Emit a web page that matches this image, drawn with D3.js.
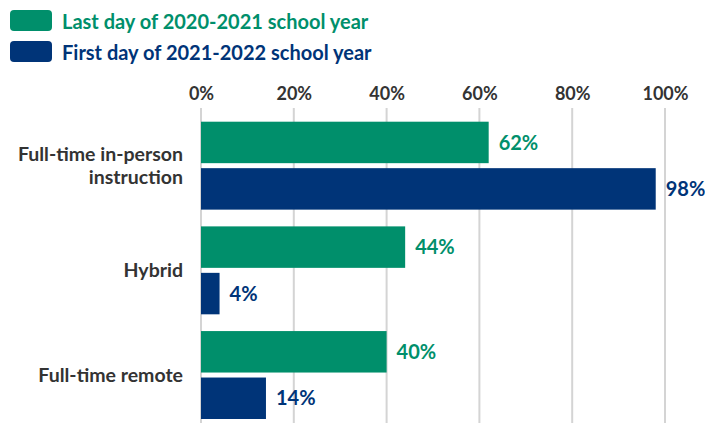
<!DOCTYPE html>
<html><head><meta charset="utf-8">
<script src="https://cdn.jsdelivr.net/npm/d3@7"></script>
<style>body{margin:0;background:#fff;} svg{display:block;font-family:Lato, "Open Sans", sans-serif;}</style>
</head><body>
<svg id="c" width="705" height="423"></svg>
<script>
const categories = [["Full-time in-person","instruction"],["Hybrid"],["Full-time remote"]];
const seriesNames = ["Last day of 2020-2021 school year","First day of 2021-2022 school year"];
const lastDay = [62, 44, 40];
const firstDay = [98, 4, 14];
const ticks = [0, 20, 40, 60, 80, 100];
const colors = ["#008f6b", "#003478"];

const svg = d3.select("#c");
const x = d3.scaleLinear().domain([0,100]).range([201, 665]);
const y = d3.scaleBand().domain(d3.range(categories.length)).range([121.7, 419]).paddingInner(0.16).paddingOuter(0);
const sub = d3.scaleBand().domain([0,1]).range([0, y.bandwidth()]).paddingInner(0.1075);

// gridlines
svg.append("g").selectAll("line").data(ticks).join("line")
  .attr("x1", d=>x(d)).attr("x2", d=>x(d)).attr("y1", 108).attr("y2", 423)
  .attr("stroke", "#d4d4d4").attr("stroke-width", 2);

// axis labels
const ax = d3.axisTop(x).tickValues(ticks).tickFormat(d=>d+"%").tickSize(0).tickPadding(0);
const axg = svg.append("g").attr("transform","translate(0,100)").call(ax);
axg.select(".domain").remove();
axg.selectAll("text").attr("font-size", 18).attr("font-weight", 700).attr("fill", "#333")
  .attr("font-family", "Lato, sans-serif").attr("dy", 0);

const data = [lastDay, firstDay];
data.forEach((vals, s) => {
  const g = svg.append("g");
  g.selectAll("rect").data(vals).join("rect")
    .attr("x", x(0)).attr("y", (d,i)=>y(i)+sub(s))
    .attr("width", d=>x(d)-x(0)).attr("height", sub.bandwidth())
    .attr("fill", colors[s]);
  g.selectAll("text").data(vals).join("text")
    .attr("x", d=>x(d)+10).attr("y", (d,i)=>y(i)+sub(s)+sub.bandwidth()/2)
    .attr("dy", "0.36em").attr("font-size", 20).attr("font-weight", 700)
    .attr("fill", colors[s]).text(d=>d+"%");
});

// category labels (one text element per line)
categories.forEach((lines, i) => {
  const cy = y(i) + y.bandwidth()/2;
  svg.append("g").selectAll("text").data(lines).join("text")
    .attr("text-anchor","end").attr("font-size", 19.5)
    .attr("font-weight", 700).attr("fill", "#333")
    .attr("x", 183)
    .attr("y", (ln, k) => cy + (k - (lines.length-1)/2)*23.5)
    .attr("dy","0.36em").text(ln => ln);
});

// legend
seriesNames.forEach((name, s) => {
  const ly = 10 + s*31;
  svg.append("rect").attr("x", 10).attr("y", ly).attr("width", 42).attr("height", 21)
    .attr("rx", 4).attr("fill", colors[s]);
  svg.append("text").attr("x", 62).attr("y", ly + 19)
    .attr("font-size", 20).attr("font-weight", 700).attr("fill", colors[s]).text(name);
});
</script>
</body></html>
